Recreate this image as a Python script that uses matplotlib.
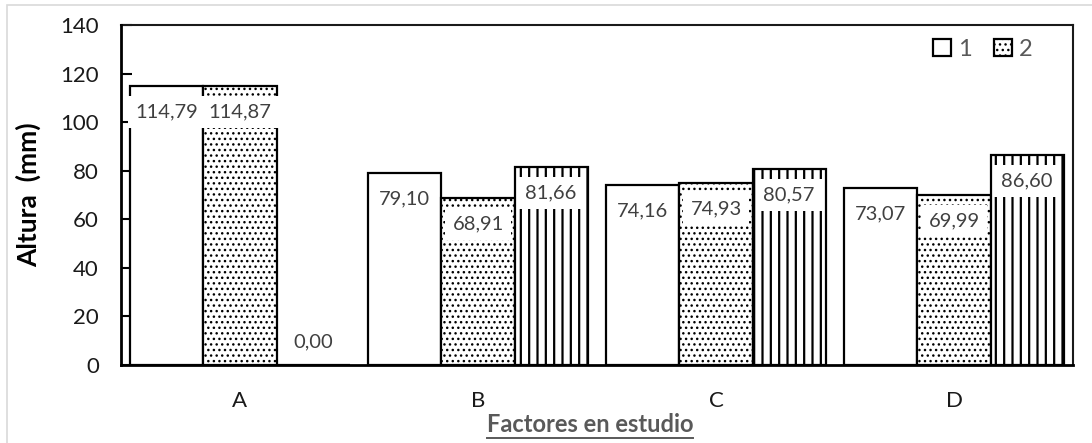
import matplotlib
matplotlib.use("Agg")
import matplotlib.pyplot as plt
from matplotlib.patches import Rectangle
from matplotlib.lines import Line2D
import numpy as np

plt.rcParams['font.family'] = ['Lato', 'DejaVu Sans']
plt.rcParams['hatch.color'] = 'black'
plt.rcParams['hatch.linewidth'] = 1.0

categories = ['A', 'B', 'C', 'D']
serie_1 = [114.79, 79.10, 74.16, 73.07]
serie_2 = [114.87, 68.91, 74.93, 69.99]
serie_3 = [0.00, 81.66, 80.57, 86.60]
series_labels = ['1', '2', '3']
yticks = [0, 20, 40, 60, 80, 100, 120, 140]

W, H, DPI = 1092, 443, 100
fig = plt.figure(figsize=(W / DPI, H / DPI), dpi=DPI)
ax = fig.add_axes([121 / W, 1 - 365 / H, 952 / W, 340 / H])

# light chart-area border
fig.patches.append(Rectangle((7 / W, -0.05), 1.2, 1 - 5 / H + 0.05,
                             transform=fig.transFigure, fill=False,
                             edgecolor='#d9d9d9', linewidth=1.2, zorder=0))

x = np.arange(len(categories))
bw = 0.307
styles = [dict(hatch=None), dict(hatch='...'), dict(hatch='||')]
all_series = [serie_1, serie_2, serie_3]
containers = []
for i, (vals, st) in enumerate(zip(all_series, styles)):
    bars = ax.bar(x + (i - 1) * bw, vals, width=bw, color='white',
                  edgecolor='black', linewidth=1.6, hatch=st['hatch'],
                  label=series_labels[i], zorder=2)
    if i == 2:
        for b in bars:
            if hasattr(b, 'set_hatch_linewidth'):
                b.set_hatch_linewidth(1.6)
    containers.append(bars)

# value labels with white boxes inside the top of each bar
for i, vals in enumerate(all_series):
    for xi, v in zip(x, vals):
        off = -18.7 if v > 20 else 16.6
        ax.annotate(f"{v:.2f}".replace('.', ','), (xi + (i - 1) * bw, v),
                    xytext=(0, off), textcoords='offset points',
                    ha='center', va='center', fontsize=14.5, color='#404040',
                    bbox=dict(boxstyle='square,pad=0.38', facecolor='white',
                              edgecolor='none'),
                    zorder=5)

ax.set_xlim(-0.5, 3.5)
ax.set_ylim(0, 140)
ax.set_yticks(yticks)
ax.set_yticklabels([str(t) for t in yticks])
ax.set_xticks(x)
ax.set_xticklabels(categories)
ax.tick_params(axis='y', direction='in', length=8, width=1.5, pad=16,
               labelsize=16, colors='black', labelcolor='#1a1a1a')
ax.tick_params(axis='x', length=0, pad=19, labelsize=16,
               labelcolor='#1a1a1a')
for side in ['left', 'bottom']:
    ax.spines[side].set_linewidth(2.0)
    ax.spines[side].set_zorder(6)
for side in ['top', 'right']:
    ax.spines[side].set_linewidth(1.5)
    ax.spines[side].set_color('#1a1a1a')

ax.set_ylabel('Altura  (mm)', fontsize=19, fontweight='bold', labelpad=0)
ax.yaxis.set_label_coords((41 - 121) / 952, 0.5)

xl = fig.text(590 / W, 1 - 425 / H, 'Factores en estudio', ha='center',
              va='center', fontsize=17, fontweight='bold', color='#595959')

leg = ax.legend(handles=[containers[0][0], containers[1][0]],
                labels=series_labels[:2], ncol=2, frameon=False,
                loc='center right', bbox_to_anchor=(0.97, 0.929),
                borderpad=0, handlelength=0.75, handleheight=0.7,
                handletextpad=0.3, columnspacing=0.95, fontsize=17,
                labelcolor='#595959')

# underline for the axis title
fig.canvas.draw()
bb = xl.get_window_extent()
fig.add_artist(Line2D([bb.x0 / W, bb.x1 / W], [(bb.y0 - 1) / H] * 2,
                      transform=fig.transFigure, color='#595959',
                      linewidth=1.4))

fig.savefig('out.png', dpi=DPI)
